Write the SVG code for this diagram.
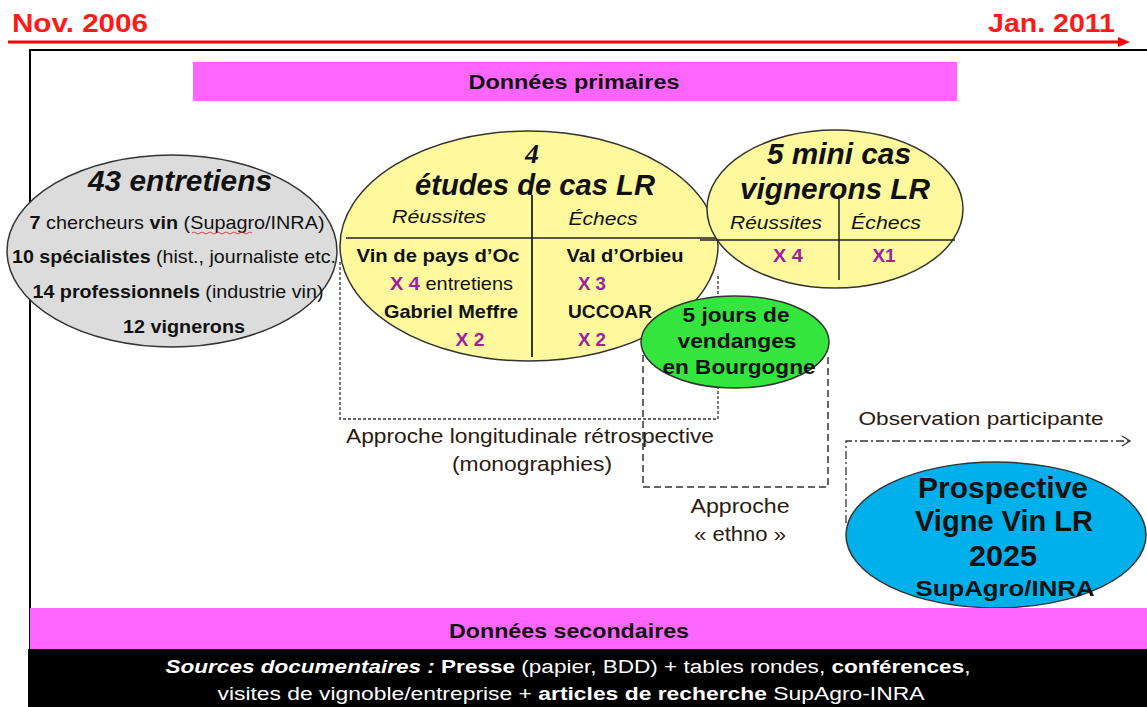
<svg xmlns="http://www.w3.org/2000/svg" width="1147" height="707" viewBox="0 0 1147 707">
<defs>
<style>
text{font-family:"Liberation Sans",Arial,sans-serif;fill:#111}
.b{font-weight:bold}
.bi{font-weight:bold;font-style:italic}
.i{font-style:italic}
.p{fill:#a020a0;font-weight:bold}
.red{fill:#ff1a1a;font-weight:bold;font-size:25px}
.m{text-anchor:middle}
.w{fill:#fff}
.lab{fill:#2a1a10}
.dash1{fill:none;stroke:#333;stroke-width:1.3;stroke-dasharray:3 2}
.dash2{fill:none;stroke:#333;stroke-width:1.5;stroke-dasharray:7 4}
.dd{fill:none;stroke:#333;stroke-width:1.3;stroke-dasharray:8 3 2 3}
.ell{stroke:#333;stroke-width:1.5}
</style>
<marker id="redhead" markerWidth="12" markerHeight="10" refX="2" refY="5" orient="auto" markerUnits="userSpaceOnUse"><path d="M0,0 L12,5 L0,10 Z" fill="#ff0000"/></marker>
<marker id="openhead" markerWidth="12" markerHeight="12" refX="10" refY="6" orient="auto" markerUnits="userSpaceOnUse"><path d="M2,1 L10,6 L2,11" fill="none" stroke="#333" stroke-width="1.3"/></marker>
</defs>
<rect width="1147" height="707" fill="#fff"/>

<g id="timeline">
<line x1="8" y1="42" x2="1120" y2="42" stroke="#ff0000" stroke-width="3" marker-end="url(#redhead)"/>
<text x="12" y="32" class="red" textLength="136" lengthAdjust="spacingAndGlyphs">Nov. 2006</text>
<text x="988" y="32" class="red" textLength="127" lengthAdjust="spacingAndGlyphs">Jan. 2011</text>
</g>

<g id="frame">
<path d="M30,650 L30,50 L1147,50" fill="none" stroke="#000" stroke-width="2"/>
</g>

<g id="primaires">
<rect x="193" y="62" width="764" height="39" fill="#ff66ff"/>
<text x="574" y="89" class="b m" font-size="20" textLength="211" lengthAdjust="spacingAndGlyphs">Données primaires</text>
</g>

<g id="connectors">
<path class="dash1" d="M340,262 L340,419 L718,419 L718,276"/>
<path class="dash2" d="M643,355 L643,487 L828,487 L828,355"/>
<path class="dd" d="M846,523 L846,441 L1130,441" marker-end="url(#openhead)"/>
</g>

<g id="entretiens">
<ellipse cx="172" cy="251" rx="165" ry="96" fill="#dcdcdc" class="ell"/>
<text x="180" y="191" class="bi m" font-size="29" textLength="184" lengthAdjust="spacingAndGlyphs">43 entretiens</text>
<text x="177" y="229" class="m" font-size="19" textLength="295" lengthAdjust="spacingAndGlyphs"><tspan class="b">7</tspan> chercheurs <tspan class="b">vin</tspan> (Supagro/INRA)</text>
<text x="174" y="263" class="m" font-size="19" textLength="324" lengthAdjust="spacingAndGlyphs"><tspan class="b">10 spécialistes</tspan> (hist., journaliste etc.</text>
<text x="178" y="298" class="m" font-size="19" textLength="291" lengthAdjust="spacingAndGlyphs"><tspan class="b">14 professionnels</tspan> (industrie vin)</text>
<text x="184" y="333" class="b m" font-size="19" textLength="122" lengthAdjust="spacingAndGlyphs">12 vignerons</text>
<path d="M192,233 q2,-2 4,0 t4,0 t4,0 t4,0 t4,0 t4,0 t4,0 t4,0 t4,0 t4,0 t4,0 t4,0 t4,0 t4,0 t4,0" fill="none" stroke="#e02020" stroke-width="0.8"/>
</g>

<g id="etudes">
<ellipse cx="529" cy="246" rx="189" ry="115" fill="#fdf99c" class="ell"/>
<line x1="532" y1="195" x2="532" y2="357" stroke="#222" stroke-width="1.8"/>
<line x1="346" y1="238" x2="716" y2="238" stroke="#222" stroke-width="1.5"/>
<text x="532" y="163" class="m" font-size="28" style="font-family:'Liberation Serif',serif;font-weight:bold;font-style:italic">4</text>
<text x="535" y="195" class="bi m" font-size="29" textLength="240" lengthAdjust="spacingAndGlyphs">études de cas LR</text>
<text x="439" y="223" class="i m" font-size="19" textLength="94" lengthAdjust="spacingAndGlyphs">Réussites</text>
<text x="603" y="225" class="i m" font-size="19" textLength="69" lengthAdjust="spacingAndGlyphs">Échecs</text>
<text x="438" y="262" class="b m" font-size="19" textLength="163" lengthAdjust="spacingAndGlyphs">Vin de pays d’Oc</text>
<text x="390" y="290" font-size="19" textLength="123" lengthAdjust="spacingAndGlyphs"><tspan class="p">X 4</tspan> entretiens</text>
<text x="451" y="318" class="b m" font-size="19" textLength="134" lengthAdjust="spacingAndGlyphs">Gabriel Meffre</text>
<text x="470" y="346" class="p m" font-size="19" textLength="29" lengthAdjust="spacingAndGlyphs">X 2</text>
<text x="625" y="262" class="b m" font-size="19" textLength="117" lengthAdjust="spacingAndGlyphs">Val d’Orbieu</text>
<text x="592" y="290" class="p m" font-size="19" textLength="28" lengthAdjust="spacingAndGlyphs">X 3</text>
<text x="610" y="318" class="b m" font-size="19" textLength="84" lengthAdjust="spacingAndGlyphs">UCCOAR</text>
<text x="592" y="346" class="p m" font-size="19" textLength="28" lengthAdjust="spacingAndGlyphs">X 2</text>
</g>

<g id="minicas">
<ellipse cx="835" cy="209" rx="128" ry="79" fill="#fdf99c" class="ell"/>
<line x1="839" y1="195" x2="839" y2="280" stroke="#222" stroke-width="1.5"/>
<line x1="700" y1="240" x2="955" y2="240" stroke="#222" stroke-width="1.3"/>
<text x="839" y="164" class="bi m" font-size="29" textLength="144" lengthAdjust="spacingAndGlyphs">5 mini cas</text>
<text x="835" y="199" class="bi m" font-size="29" textLength="190" lengthAdjust="spacingAndGlyphs">vignerons LR</text>
<text x="776" y="229" class="i m" font-size="19" textLength="92" lengthAdjust="spacingAndGlyphs">Réussites</text>
<text x="886" y="229" class="i m" font-size="19" textLength="70" lengthAdjust="spacingAndGlyphs">Échecs</text>
<text x="788" y="262" class="p m" font-size="18" textLength="30" lengthAdjust="spacingAndGlyphs">X 4</text>
<text x="884" y="262" class="p m" font-size="18" textLength="23" lengthAdjust="spacingAndGlyphs">X1</text>
</g>

<g id="vendanges">
<ellipse cx="735" cy="342" rx="94" ry="46" fill="#33e53d" class="ell"/>
<text x="736" y="322" class="b m" font-size="20" textLength="107" lengthAdjust="spacingAndGlyphs">5 jours de</text>
<text x="737" y="348" class="b m" font-size="20" textLength="119" lengthAdjust="spacingAndGlyphs">vendanges</text>
<text x="739" y="374" class="b m" font-size="20" textLength="153" lengthAdjust="spacingAndGlyphs">en Bourgogne</text>
</g>

<g id="labels">
<text x="530" y="443" class="m lab" font-size="20" textLength="368" lengthAdjust="spacingAndGlyphs">Approche longitudinale rétrospective</text>
<text x="532" y="471" class="m lab" font-size="20" textLength="160" lengthAdjust="spacingAndGlyphs">(monographies)</text>
<text x="740" y="513" class="m lab" font-size="20" textLength="99" lengthAdjust="spacingAndGlyphs">Approche</text>
<text x="740" y="541" class="m lab" font-size="20" textLength="92" lengthAdjust="spacingAndGlyphs">« ethno »</text>
<text x="981" y="425" class="m lab" font-size="19" textLength="245" lengthAdjust="spacingAndGlyphs">Observation participante</text>
</g>

<g id="prospective">
<ellipse cx="996" cy="535" rx="150" ry="73" fill="#00b0ea" class="ell"/>
<text x="1003" y="498" class="b m" font-size="29" textLength="170" lengthAdjust="spacingAndGlyphs">Prospective</text>
<text x="1004" y="531" class="b m" font-size="29" textLength="178" lengthAdjust="spacingAndGlyphs">Vigne Vin LR</text>
<text x="1003" y="566" class="b m" font-size="29" textLength="68" lengthAdjust="spacingAndGlyphs">2025</text>
<text x="1005" y="596" class="b m" font-size="22" textLength="179" lengthAdjust="spacingAndGlyphs">SupAgro/INRA</text>
</g>

<g id="secondaires">
<rect x="30" y="608" width="1117" height="41" fill="#ff66ff"/>
<text x="569" y="638" class="b m" font-size="20" textLength="240" lengthAdjust="spacingAndGlyphs">Données secondaires</text>
<rect x="28" y="649" width="1119" height="58" fill="#000"/>
<text x="568" y="673" class="m w" font-size="18" textLength="805" lengthAdjust="spacingAndGlyphs"><tspan class="bi w">Sources documentaires :</tspan> <tspan class="b w">Presse</tspan> (papier, BDD) + tables rondes, <tspan class="b w">conférences</tspan>,</text>
<text x="571" y="700" class="m w" font-size="18" textLength="707" lengthAdjust="spacingAndGlyphs">visites de vignoble/entreprise + <tspan class="b w">articles de recherche</tspan>  SupAgro-INRA</text>
</g>
</svg>
